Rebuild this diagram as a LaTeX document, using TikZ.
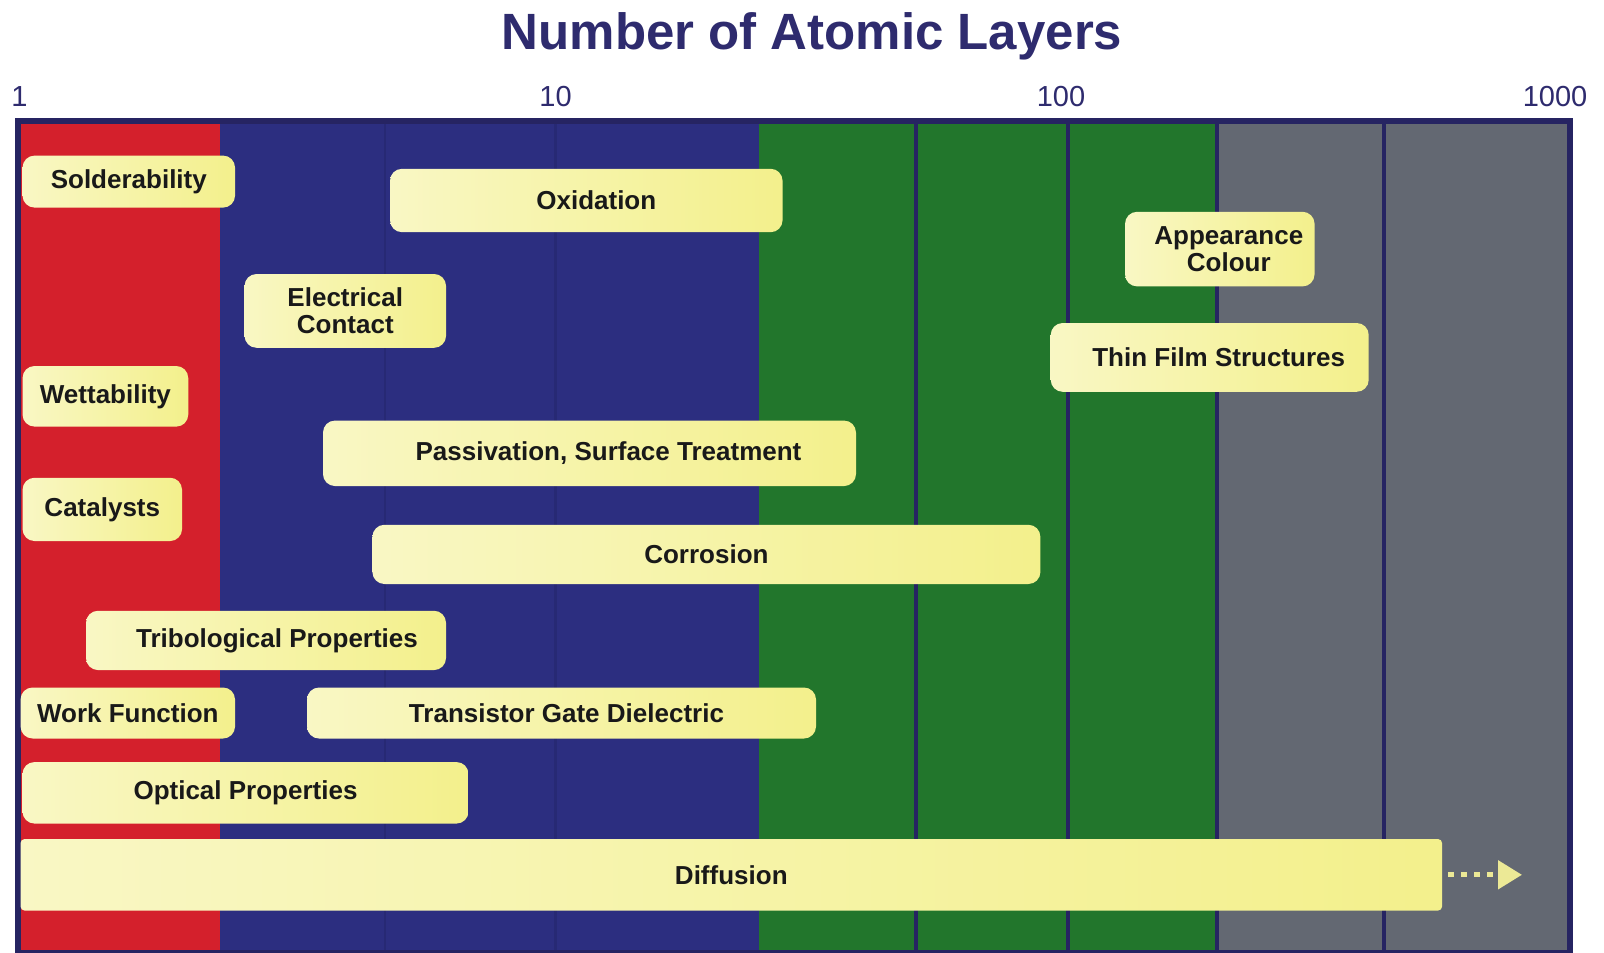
\documentclass[tikz,border=0pt]{standalone}
\usepackage{fontspec}
\setmainfont{Liberation Sans}
\usetikzlibrary{arrows.meta}
\definecolor{cred}{RGB}{212,32,44}
\definecolor{cblue}{RGB}{44,46,128}
\definecolor{cbline}{RGB}{39,41,116}
\definecolor{cgreen}{RGB}{34,118,44}
\definecolor{cgray}{RGB}{99,104,114}
\definecolor{cnavy}{RGB}{38,36,98}
\definecolor{ctitle}{RGB}{46,43,110}
\definecolor{ylight}{RGB}{249,247,196}
\definecolor{ydark}{RGB}{243,240,140}
\definecolor{ctext}{RGB}{25,25,25}
\definecolor{carrow}{RGB}{236,233,150}
\tikzset{
  box/.style={rounded corners=12pt, left color=ylight, right color=ydark,
    text=ctext, inner sep=0pt, align=center, anchor=center,
    font=\fontsize{26}{27}\selectfont\bfseries},
  axlabel/.style={text=ctitle, font=\fontsize{29}{30}\selectfont, anchor=center, inner sep=0pt},
  gridfaint/.style={line width=2.5pt, cbline},
  griddark/.style={line width=4pt, cnavy},
}
\begin{document}
\begin{tikzpicture}[x=1pt,y=-1pt]
\useasboundingbox (0,0) rectangle (1604,953);
\fill[white] (0,0) rectangle (1604,953);
% columns
\fill[cred] (18.4,120) rectangle (220,953);
\fill[cblue] (220,120) rectangle (759,953);
\fill[cgreen] (759,120) rectangle (1217,953);
\fill[cgray] (1217,120) rectangle (1570,953);
% grid lines
\foreach \x in {385,555.5} \draw[gridfaint] (\x,120) -- (\x,953);
\foreach \x in {915.6,1068,1217,1384} \draw[griddark] (\x,120) -- (\x,953);
% frame
\draw[line width=6pt, cnavy] (18.4,953) -- (18.4,120.7) -- (1570,120.7) -- (1570,953);
\draw[line width=3pt, cnavy] (18.4,951.5) -- (1570,951.5);
% title and axis
\node[text=ctitle, font=\fontsize{51}{54}\selectfont\bfseries, inner sep=0pt] (title) at (812,36) {Number of Atomic Layers};
\node[axlabel] (a1) at (19.5,97) {1};
\node[axlabel] (a10) at (555.5,97) {10};
\node[axlabel] (a100) at (1061,97) {100};
\node[axlabel] (a1000) at (1555,97) {1000};
% boxes
\node[box, minimum width=212.5pt, minimum height=52pt] (solder) at (128.8,181.6) {Solderability};
\node[box, minimum width=392.6pt, minimum height=63.4pt] (oxid) at (586.3,200.5) {\hspace*{20pt}Oxidation};
\node[box, minimum width=189.5pt, minimum height=74.6pt] (appear) at (1219.8,249.1) {\hspace*{18pt}Appearance\\\hspace*{18pt}Colour};
\node[box, minimum width=201.5pt, minimum height=73.8pt] (elec) at (345.3,310.9) {Electrical\\Contact};
\node[box, minimum width=318pt, minimum height=68.8pt] (thin) at (1209.7,357.4) {\hspace*{18pt}Thin Film Structures};
\node[box, minimum width=165.7pt, minimum height=60.6pt] (wett) at (105.4,396.3) {Wettability};
\node[box, minimum width=533pt, minimum height=65.5pt] (pass) at (589.5,453.3) {\hspace*{38pt}Passivation, Surface Treatment};
\node[box, minimum width=159.5pt, minimum height=63.3pt] (cata) at (102.3,509.4) {Catalysts};
\node[box, minimum width=668pt, minimum height=59.2pt] (corr) at (706.4,554.4) {Corrosion};
\node[box, minimum width=360pt, minimum height=59.3pt] (trib) at (266,640.4) {\hspace*{22pt}Tribological Properties};
\node[box, minimum width=214.5pt, minimum height=51pt] (work) at (127.8,713) {Work Function};
\node[box, minimum width=509pt, minimum height=51pt] (trans) at (561.5,713) {\hspace*{10pt}Transistor Gate Dielectric};
\node[box, minimum width=446pt, minimum height=61.5pt] (optic) at (245.5,792.8) {Optical Properties};
\node[box, rounded corners=4pt, minimum width=1421.5pt, minimum height=71.5pt] (diff) at (731.3,874.8) {Diffusion};
% arrow
\coordinate (arrowend) at (1522,874.8);
\draw[carrow, line width=5pt, dash pattern=on 6pt off 7pt, -{Triangle[length=24pt,width=28pt]}] ([xshift=6pt]diff.east) -- (arrowend);
\end{tikzpicture}
\end{document}
